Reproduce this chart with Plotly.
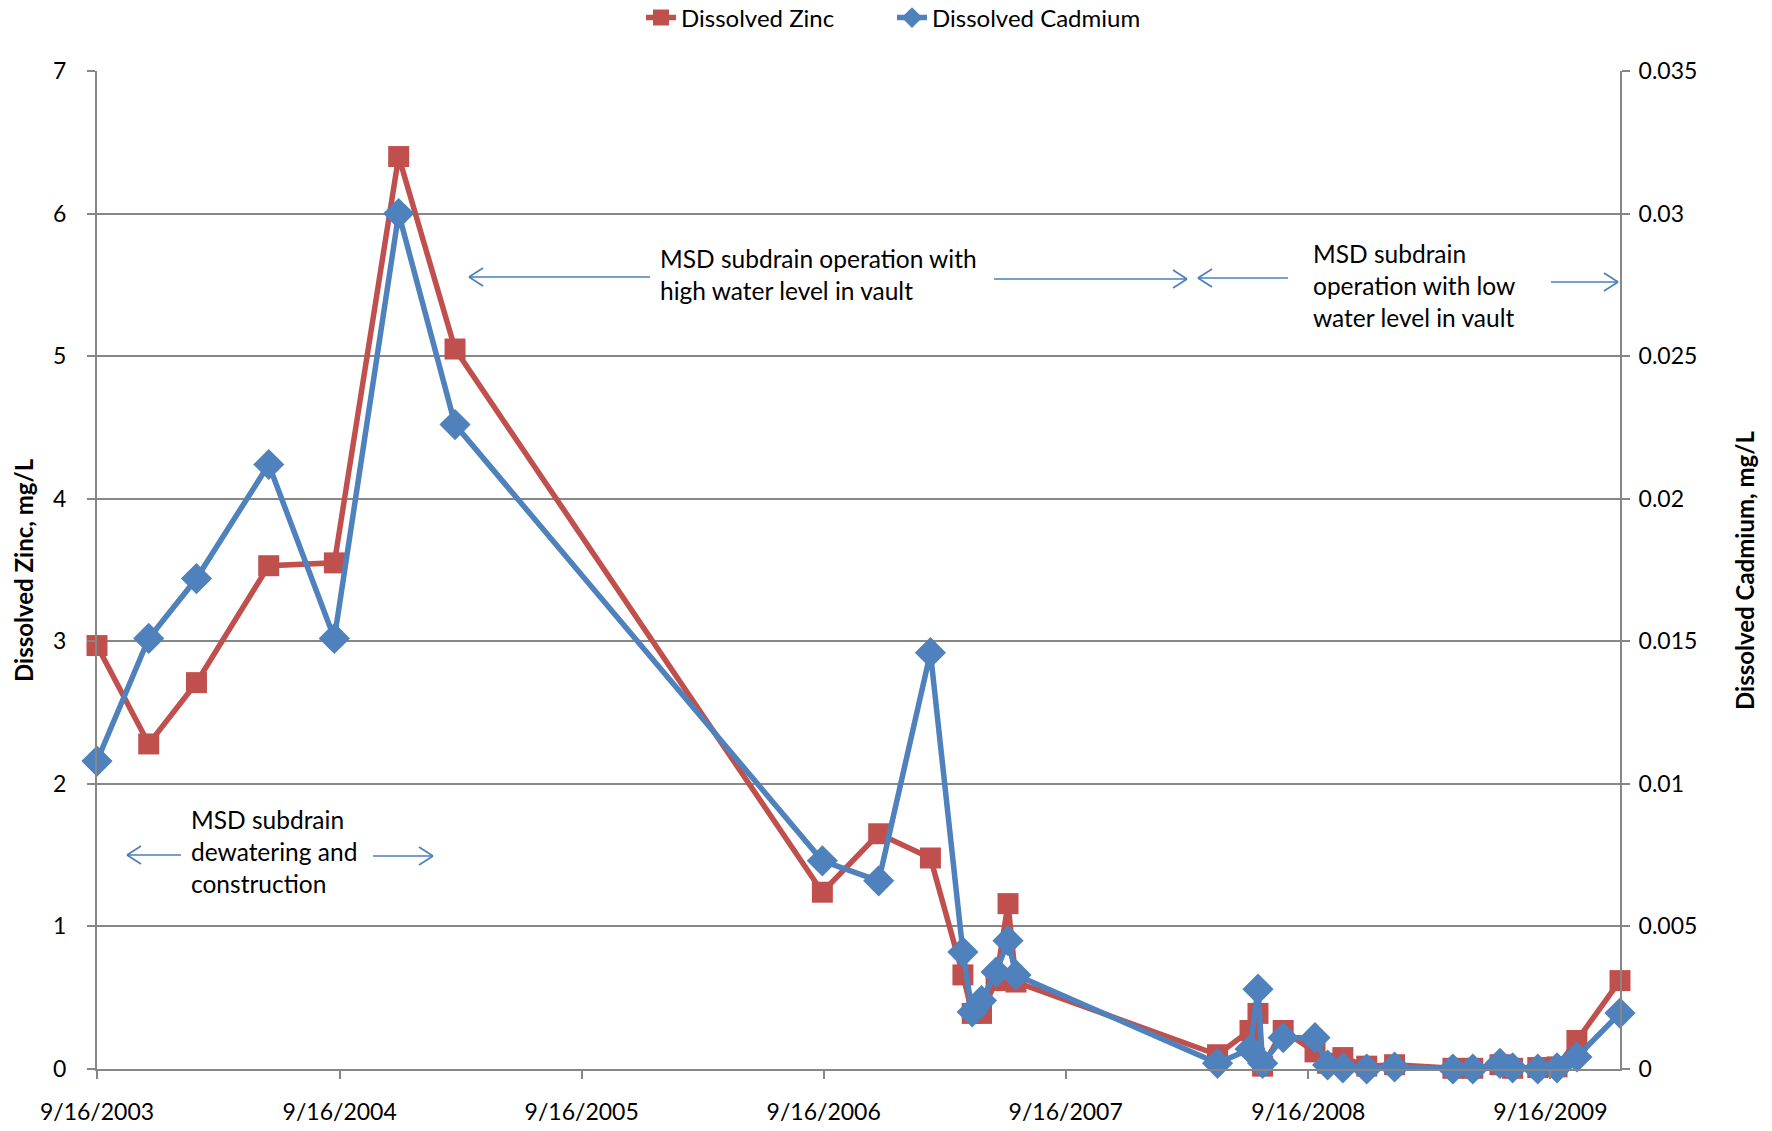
import plotly.graph_objects as go

# Sampling dates shared by both parameters
dates = [
    "2003-09-16", "2003-12-03", "2004-02-13", "2004-06-01", "2004-09-08",
    "2004-12-14", "2005-03-09", "2006-09-14", "2006-12-08", "2007-02-24",
    "2007-04-14", "2007-04-28", "2007-05-12", "2007-06-03", "2007-06-21",
    "2007-07-03", "2008-05-02", "2008-06-20", "2008-07-02", "2008-07-09",
    "2008-08-09", "2008-09-26", "2008-10-15", "2008-11-07", "2008-12-13",
    "2009-01-24", "2009-04-22", "2009-05-22", "2009-07-02", "2009-07-21",
    "2009-08-28", "2009-09-26", "2009-10-26", "2009-12-30",
]

# Dissolved zinc, mg/L (left axis)
zinc = [
    2.97, 2.28, 2.71, 3.53, 3.55,
    6.40, 5.05, 1.24, 1.65, 1.48,
    0.66, 0.39, 0.39, 0.62, 1.16,
    0.61, 0.10, 0.27, 0.39, 0.02,
    0.27, 0.12, 0.04, 0.08, 0.02,
    0.03, 0.005, 0.005, 0.03, 0.005,
    0.01, 0.015, 0.20, 0.62,
]

# Dissolved cadmium, mg/L (right axis)
cadmium = [
    0.0108, 0.0151, 0.0172, 0.0212, 0.0151,
    0.0300, 0.0226, 0.0073, 0.0066, 0.0146,
    0.0041, 0.0020, 0.0024, 0.0034, 0.0045,
    0.0033, 0.0002, 0.0007, 0.0028, 0.0002,
    0.0011, 0.0011, 0.00014, 0.00004, 0.0,
    0.00007, 0.0, 0.0, 0.0002, 0.00004,
    0.0, 0.00004, 0.00042, 0.00196,
]

tick_dates = ["2003-09-16", "2004-09-16", "2005-09-16", "2006-09-16",
              "2007-09-16", "2008-09-16", "2009-09-16"]
tick_labels = ["9/16/2003", "9/16/2004", "9/16/2005", "9/16/2006",
               "9/16/2007", "9/16/2008", "9/16/2009"]

RED = "#C0504D"
BLUE = "#4F81BD"
ARROW = "#4A7EBB"
GRID = "#878787"
FONT = "Lato, sans-serif"

W, H = 1772, 1131
L, R, T, B = 97, 152, 71, 62
PW, PH = W - L - R, H - T - B


def px(x):
    return (x - L) / PW


def py(y):
    return (H - B - y) / PH


fig = go.Figure()
fig.add_trace(go.Scatter(
    x=dates, y=zinc, name="Dissolved Zinc", mode="lines+markers",
    line=dict(color=RED, width=5.5),
    marker=dict(symbol="square", size=21, color=RED),
    cliponaxis=False,
))
fig.add_trace(go.Scatter(
    x=dates, y=cadmium, name="Dissolved Cadmium", mode="lines+markers",
    yaxis="y2",
    line=dict(color=BLUE, width=5.5),
    marker=dict(symbol="diamond", size=24, color=BLUE),
    cliponaxis=False,
))

# Period arrows: horizontal line with an open chevron head
shapes = []


def arrow(x_tail, x_head, y):
    d = 1 if x_head > x_tail else -1
    common = dict(type="line", xref="paper", yref="paper",
                  line=dict(color=ARROW, width=1.6))
    shapes.append(dict(x0=px(x_tail), x1=px(x_head), y0=py(y), y1=py(y), **common))
    for s in (-1, 1):
        shapes.append(dict(x0=px(x_head), x1=px(x_head - d * 14),
                           y0=py(y), y1=py(y + s * 9), **common))


arrow(650, 469, 277)
arrow(994, 1187, 279)
arrow(1288, 1198, 278)
arrow(1551, 1618, 282)
arrow(181, 127, 855)
arrow(373, 433, 856)

text_font = dict(family=FONT, size=24.5, color="#000000")
title_font = dict(family=FONT, size=24, color="#000000")
annotations = [
    dict(text="MSD subdrain operation with<br>high water level in vault",
         x=px(658), y=py(274), xanchor="left", yanchor="middle", align="left"),
    dict(text="MSD subdrain<br>operation with low<br>water level in vault",
         x=px(1311), y=py(285), xanchor="left", yanchor="middle", align="left"),
    dict(text="MSD subdrain<br>dewatering and<br>construction",
         x=px(189), y=py(851), xanchor="left", yanchor="middle", align="left"),
    dict(text="<b>Dissolved Zinc, mg/L</b>", textangle=-90,
         x=px(23), y=py(570), xanchor="center", yanchor="middle",
         font=title_font),
    dict(text="<b>Dissolved Cadmium, mg/L</b>", textangle=-90,
         x=px(1744), y=py(570), xanchor="center", yanchor="middle",
         font=title_font),
]
for a in annotations:
    a.setdefault("font", text_font)
    a.update(xref="paper", yref="paper", showarrow=False)

axis_common = dict(
    showline=True, linecolor=GRID, linewidth=2,
    ticks="outside", ticklen=8, tickcolor=GRID, tickwidth=2,
    tickfont=dict(family=FONT, size=23, color="#000000"),
    zeroline=False, automargin=False,
)

fig.update_layout(
    width=W, height=H,
    margin=dict(l=L, r=R, t=T, b=B, autoexpand=False),
    paper_bgcolor="white", plot_bgcolor="white",
    font=dict(family=FONT, size=24, color="#000000"),
    showlegend=True,
    legend=dict(orientation="h", x=px(W / 2 + 6), xanchor="center", y=py(18),
                yanchor="middle", font=dict(family=FONT, size=24),
                entrywidth=206, entrywidthmode="pixels", tracegroupgap=0),
    xaxis=dict(type="date", range=[dates[0], dates[-1]],
               tickmode="array", tickvals=tick_dates, ticktext=tick_labels,
               showgrid=False, ticklabelstandoff=13, **axis_common),
    yaxis=dict(range=[0, 7], dtick=1, showgrid=True, gridcolor=GRID,
               gridwidth=1.5, ticklabelstandoff=16, **axis_common),
    yaxis2=dict(range=[0, 0.035], dtick=0.005, overlaying="y", side="right",
                showgrid=False, ticklabelstandoff=4, **axis_common),
    shapes=shapes,
    annotations=annotations,
)

fig.write_html("out.html")
